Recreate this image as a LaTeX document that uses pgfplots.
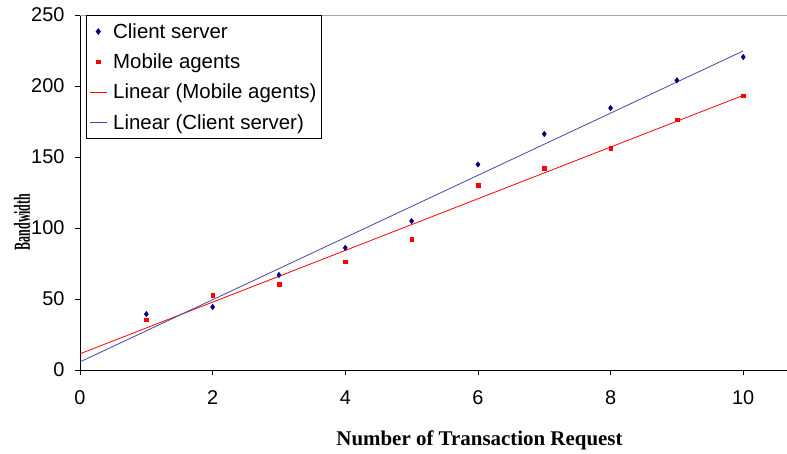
\documentclass[border=0pt]{standalone}
\usepackage{graphicx}
\usepackage{pgfplots}
\pgfplotsset{compat=1.18}
\usepackage{fontspec}
\setmainfont{Liberation Sans}
\newfontfamily\labelfont{Liberation Serif}
\definecolor{csblue}{HTML}{000080}
\definecolor{csline}{HTML}{4646A8}
\definecolor{maredg}{HTML}{FF0000}
\begin{document}
\begin{tikzpicture}
\begin{axis}[
  name=ax,
  scale only axis,
  width=707bp, height=355bp,
  xmin=0, xmax=10.66, ymin=0, ymax=250,
  xtick={0,2,4,6,8,10}, ytick={0,50,100,150,200,250},
  axis x line*=bottom, axis y line*=left,
  axis line style={black, line width=0.8pt},
  tick align=outside, major tick length=5bp,
  tick style={black, line width=0.8pt},
  /pgf/number format/assume math mode=true,
  tick label style={font=\fontsize{20}{24}\selectfont},
  xticklabel style={yshift=-12bp},
  yticklabel style={xshift=-7bp},
  xlabel={\labelfont\bfseries\fontsize{21}{24}\selectfont Number of Transaction Request},
  ylabel={\scalebox{0.52}[1]{\labelfont\bfseries\fontsize{23}{26}\selectfont Bandwidth}},
  xlabel style={at={(axis description cs:0.5,0)}, anchor=center, yshift=-70bp, xshift=46bp},
  ylabel style={at={(axis description cs:-0.082,0.417)}, anchor=center},
  legend cell align=left,
  legend style={at={(0.0085,1)}, anchor=north west, draw=black, line width=0.8pt,
    font=\fontsize{20.5}{24}\selectfont, row sep=10bp, inner xsep=3bp, inner ysep=6bp,
    /tikz/every odd column/.append style={column sep=4bp}},
  clip=false,
]
\draw[gray!70, line width=0.8pt] (rel axis cs:0,1) -- (rel axis cs:1,1);
\addplot[only marks, mark=diamond*, mark size=2.8pt, color=csblue] coordinates {
  (1,39.4) (2,44.4) (3,66.9) (4,86.0) (5,104.9) (6,144.8) (7,166.2) (8,184.5) (9,204.0) (10,220.4)};
\addlegendentry{Client server}
\addplot[only marks, mark=square*, mark size=1.8pt, color=maredg] coordinates {
  (1,35.4) (2,52.6) (3,60.3) (4,76.3) (5,92.2) (6,130.3) (7,142.3) (8,156.3) (9,176.3) (10,193.2)};
\addlegendentry{Mobile agents}
\addplot[draw=maredg, color=maredg, line width=0.8pt] coordinates {(0,11.4) (10,193.4)};
\addlegendentry{Linear (Mobile agents)}
\addplot[draw=csline, color=csline, line width=0.8pt] coordinates {(0,5.7) (10,224.7)};
\addlegendentry{Linear (Client server)}
\end{axis}
\pgfresetboundingbox
\useasboundingbox ([xshift=-80bp,yshift=-84bp]ax.south west) rectangle ([yshift=15bp]ax.north east);
\end{tikzpicture}
\end{document}
